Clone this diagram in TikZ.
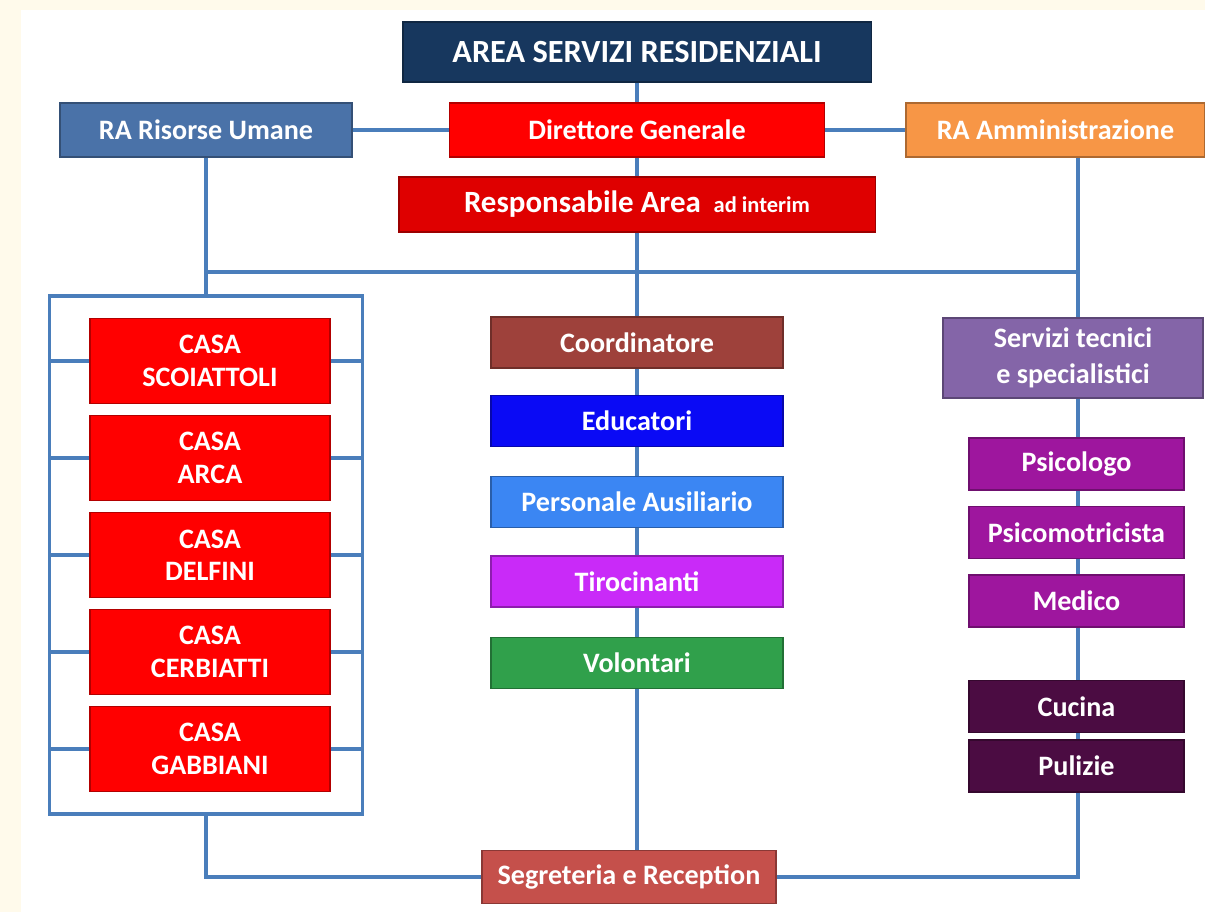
\documentclass[tikz,border=0pt]{standalone}
\usepackage{fontspec}
\setmainfont{Carlito}
\usetikzlibrary{positioning, calc}

\definecolor{crema}{HTML}{FFFAEB}
\definecolor{linea}{HTML}{4A7EBB}
\definecolor{areablu}{HTML}{17375E}
\definecolor{rublu}{HTML}{4A72A8}
\definecolor{dgrosso}{HTML}{FF0000}
\definecolor{arancio}{HTML}{F79646}
\definecolor{resprosso}{HTML}{DF0000}
\definecolor{casarosso}{HTML}{FF0000}
\definecolor{coordcol}{HTML}{9E413B}
\definecolor{educol}{HTML}{0A0AF5}
\definecolor{perscol}{HTML}{3B86F3}
\definecolor{tircol}{HTML}{C92AF8}
\definecolor{volcol}{HTML}{30A04B}
\definecolor{segcol}{HTML}{C5504B}
\definecolor{servcol}{HTML}{8465A8}
\definecolor{speccol}{HTML}{9E169E}
\definecolor{cuccol}{HTML}{4B0C42}

\begin{document}
\begin{tikzpicture}[x=0.025cm, y=-0.025cm,
  box/.style={draw=#1!70!black, fill=#1, text=white, line width=0.8pt, inner sep=0pt,
    align=center, font=\fontsize{20}{23}\selectfont\bfseries},
  conn/.style={draw=linea, line width=2.6pt}]
\useasboundingbox (0,0) rectangle (1205,912);
\fill[crema] (0,0) rectangle (1205,912);
\fill[white] (21,10) rectangle (1205,912);

\node[box=areablu, minimum width=11.7cm, minimum height=1.5cm, font=\fontsize{23}{26}\selectfont\bfseries] (area) at (637,52) {AREA SERVIZI RESIDENZIALI};
\node[box=rublu, minimum width=7.3cm, minimum height=1.35cm] (ru) at (206,130) {RA Risorse Umane};
\node[box=dgrosso, minimum width=9.375cm, minimum height=1.35cm] (dg) at (637,130) {Direttore Generale};
\node[box=arancio, minimum width=7.475cm, minimum height=1.35cm] (amm) at (1055.5,130) {RA Amministrazione};
\node[box=resprosso, minimum width=11.9cm, minimum height=1.375cm] (resp) at (637,204.5)
  {{\fontsize{22}{24}\selectfont Responsabile Area}\ \ {\fontsize{16}{18}\selectfont ad interim}};

\coordinate (sx) at (206,272);
\coordinate (dx) at (1078,272);

\node[draw=linea, line width=2.6pt, minimum width=7.825cm, minimum height=12.95cm] (frame) at (206,555) {};
\foreach \nome [count=\i] in {SCOIATTOLI, ARCA, DELFINI, CERBIATTI, GABBIANI} {
  \node[box=casarosso, minimum width=6cm, minimum height=2.125cm] (casa\i) at (210,{264+97*\i}) {CASA\\\nome};
  \draw[conn] (casa\i.west) -- (casa\i.west -| frame.west);
  \draw[conn] (casa\i.east) -- (casa\i.east -| frame.east);
}

\node[box=coordcol, minimum width=7.3cm, minimum height=1.275cm] (coord) at (637,342.5) {Coordinatore};
\node[box=educol, minimum width=7.3cm, minimum height=1.275cm] (edu) at (637,421) {Educatori};
\node[box=perscol, minimum width=7.3cm, minimum height=1.275cm] (pers) at (637,502) {Personale Ausiliario};
\node[box=tircol, minimum width=7.3cm, minimum height=1.275cm] (tir) at (637,581.5) {Tirocinanti};
\node[box=volcol, minimum width=7.3cm, minimum height=1.275cm] (vol) at (637,663) {Volontari};
\node[box=segcol, minimum width=7.35cm, minimum height=1.325cm] (seg) at (629,877) {Segreteria e Reception};

\node[box=servcol, minimum width=6.5cm, minimum height=2cm, font=\fontsize{20}{26}\selectfont\bfseries] (serv) at (1073,358) {Servizi tecnici\\e specialistici};
\node[box=speccol, minimum width=5.375cm, minimum height=1.3cm] (psi) at (1076.5,464) {Psicologo};
\node[box=speccol, minimum width=5.375cm, minimum height=1.3cm] (psm) at (1076.5,532.5) {Psicomotricista};
\node[box=speccol, minimum width=5.375cm, minimum height=1.3cm] (med) at (1076.5,601) {Medico};
\node[box=cuccol, minimum width=5.375cm, minimum height=1.3cm] (cuc) at (1076.5,706.5) {Cucina};
\node[box=cuccol, minimum width=5.375cm, minimum height=1.3cm] (pul) at (1076.5,766) {Pulizie};

\draw[conn] (area) -- (dg);
\draw[conn] (dg) -- (resp);
\draw[conn] (resp) -- (coord);
\draw[conn] (coord) -- (edu);
\draw[conn] (edu) -- (pers);
\draw[conn] (pers) -- (tir);
\draw[conn] (tir) -- (vol);
\draw[conn] (vol.south) -- (vol.south |- seg.north);
\draw[conn] (ru) -- (dg);
\draw[conn] (dg) -- (amm);
\draw[conn] (ru) -- (frame);
\draw[conn] (sx) -- (dx);
\draw[conn] (amm.south -| dx) -- (serv.north -| dx);
\draw[conn] (serv.south -| dx) -- (psi.north -| dx);
\draw[conn] (psi.south -| dx) -- (psm.north -| dx);
\draw[conn] (psm.south -| dx) -- (med.north -| dx);
\draw[conn] (med.south -| dx) -- (cuc.north -| dx);
\draw[conn] (cuc.south -| dx) -- (pul.north -| dx);
\draw[conn] (pul.south -| dx) |- (seg.east);
\draw[conn] (frame.south) |- (seg.west);
\end{tikzpicture}
\end{document}
